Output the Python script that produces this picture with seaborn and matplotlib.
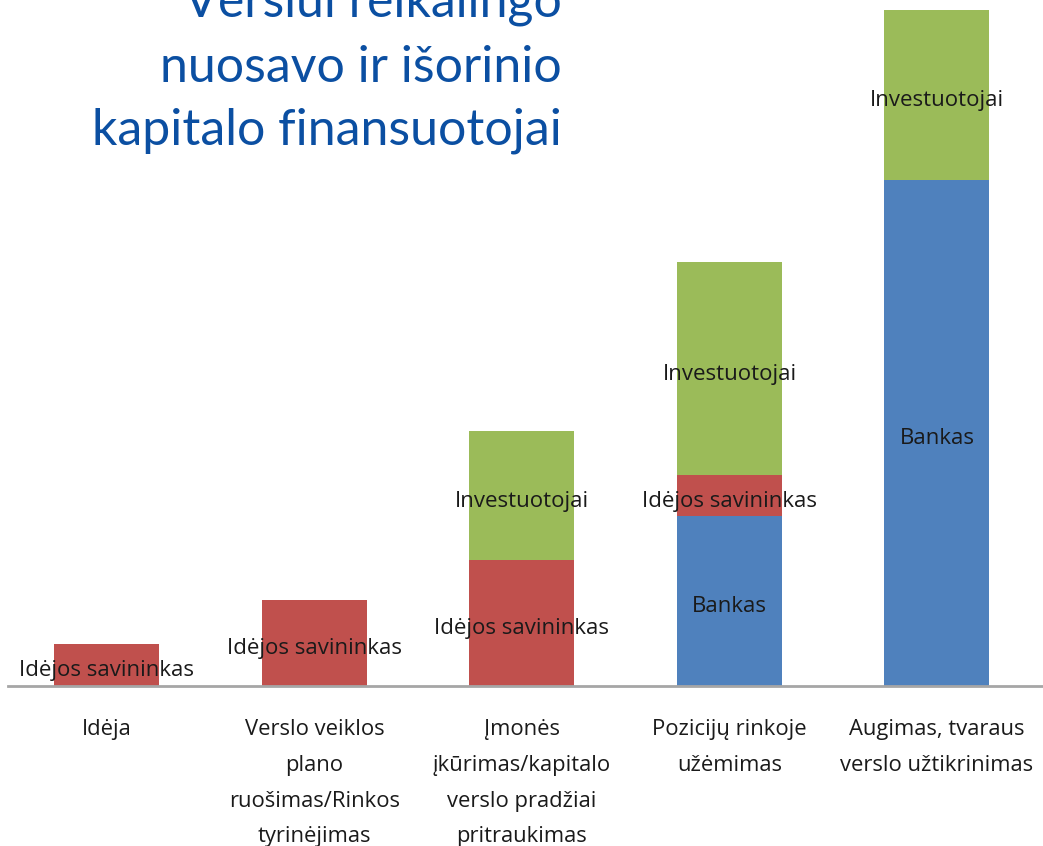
import matplotlib
matplotlib.use('Agg')
import matplotlib.pyplot as plt
import seaborn as sns

# stages of the business (x categories)
stages = [
    'Idėja',
    'Verslo veiklos\nplano\nruošimas/Rinkos\ntyrinėjimas',
    'Įmonės\nįkūrimas/kapitalo\nverslo pradžiai\npritraukimas',
    'Pozicijų rinkoje\nužėmimas',
    'Augimas, tvaraus\nverslo užtikrinimas',
]

# stacked segments, bottom to top (arbitrary units)
bankas = [0, 0, 0, 25.1, 74.9]
savininkas = [6.2, 12.7, 18.6, 6.1, 0]
investuotojai = [0, 0, 19.1, 31.5, 25.1]

series_names = ['Bankas', 'Idėjos savininkas', 'Investuotojai']
series_values = [bankas, savininkas, investuotojai]
series_colours = ['#4f81bd', '#c0504d', '#9bbb59']

title_lines = ['Verslui reikalingo', 'nuosavo ir išorinio', 'kapitalo finansuotojai']

sns.set_style('white')
plt.rcParams['font.family'] = ['Open Sans', 'DejaVu Sans']

fig = plt.figure(figsize=(10.43, 8.46), dpi=100)
ax = fig.add_axes([8 / 1043, 160 / 846, 1035 / 1043, 686 / 846])

bottoms = [0] * len(stages)
for name, vals, col in zip(series_names, series_values, series_colours):
    sns.barplot(x=stages, y=vals, order=stages, color=col, width=0.506,
                errorbar=None, bottom=bottoms, ax=ax, saturation=1,
                linewidth=0)
    cont = ax.containers[-1]
    anns = ax.bar_label(cont, labels=[name if v > 0 else '' for v in vals],
                        label_type='center', fontsize=16, color='#1a1a1a')
    for a in anns:
        a.xyann = (0, -4)
    bottoms = [b + v for b, v in zip(bottoms, vals)]

ax.set_xlim(-0.477, 4.511)
ax.set_ylim(0, 101.5)
ax.set_yticks([])
ax.set_ylabel('')
ax.tick_params(axis='x', length=0, pad=24, labelsize=15.8, labelcolor='#1a1a1a')
for lab in ax.get_xticklabels():
    lab.set_linespacing(1.92)
    lab.set_verticalalignment('top')

for s in ['left', 'top', 'right']:
    ax.spines[s].set_visible(False)
ax.spines['bottom'].set_color('#a6a6a6')
ax.spines['bottom'].set_linewidth(2)

# title in blue, right aligned, top line cut off by the edge (as in the original)
for line, y in zip(title_lines, [17, 82, 145]):
    fig.text(562 / 1043, 1 - y / 846, line, ha='right', va='baseline',
             fontsize=36, color='#0b4fa2', family=['Lato', 'DejaVu Sans'])

fig.savefig('out.png', dpi=100)
